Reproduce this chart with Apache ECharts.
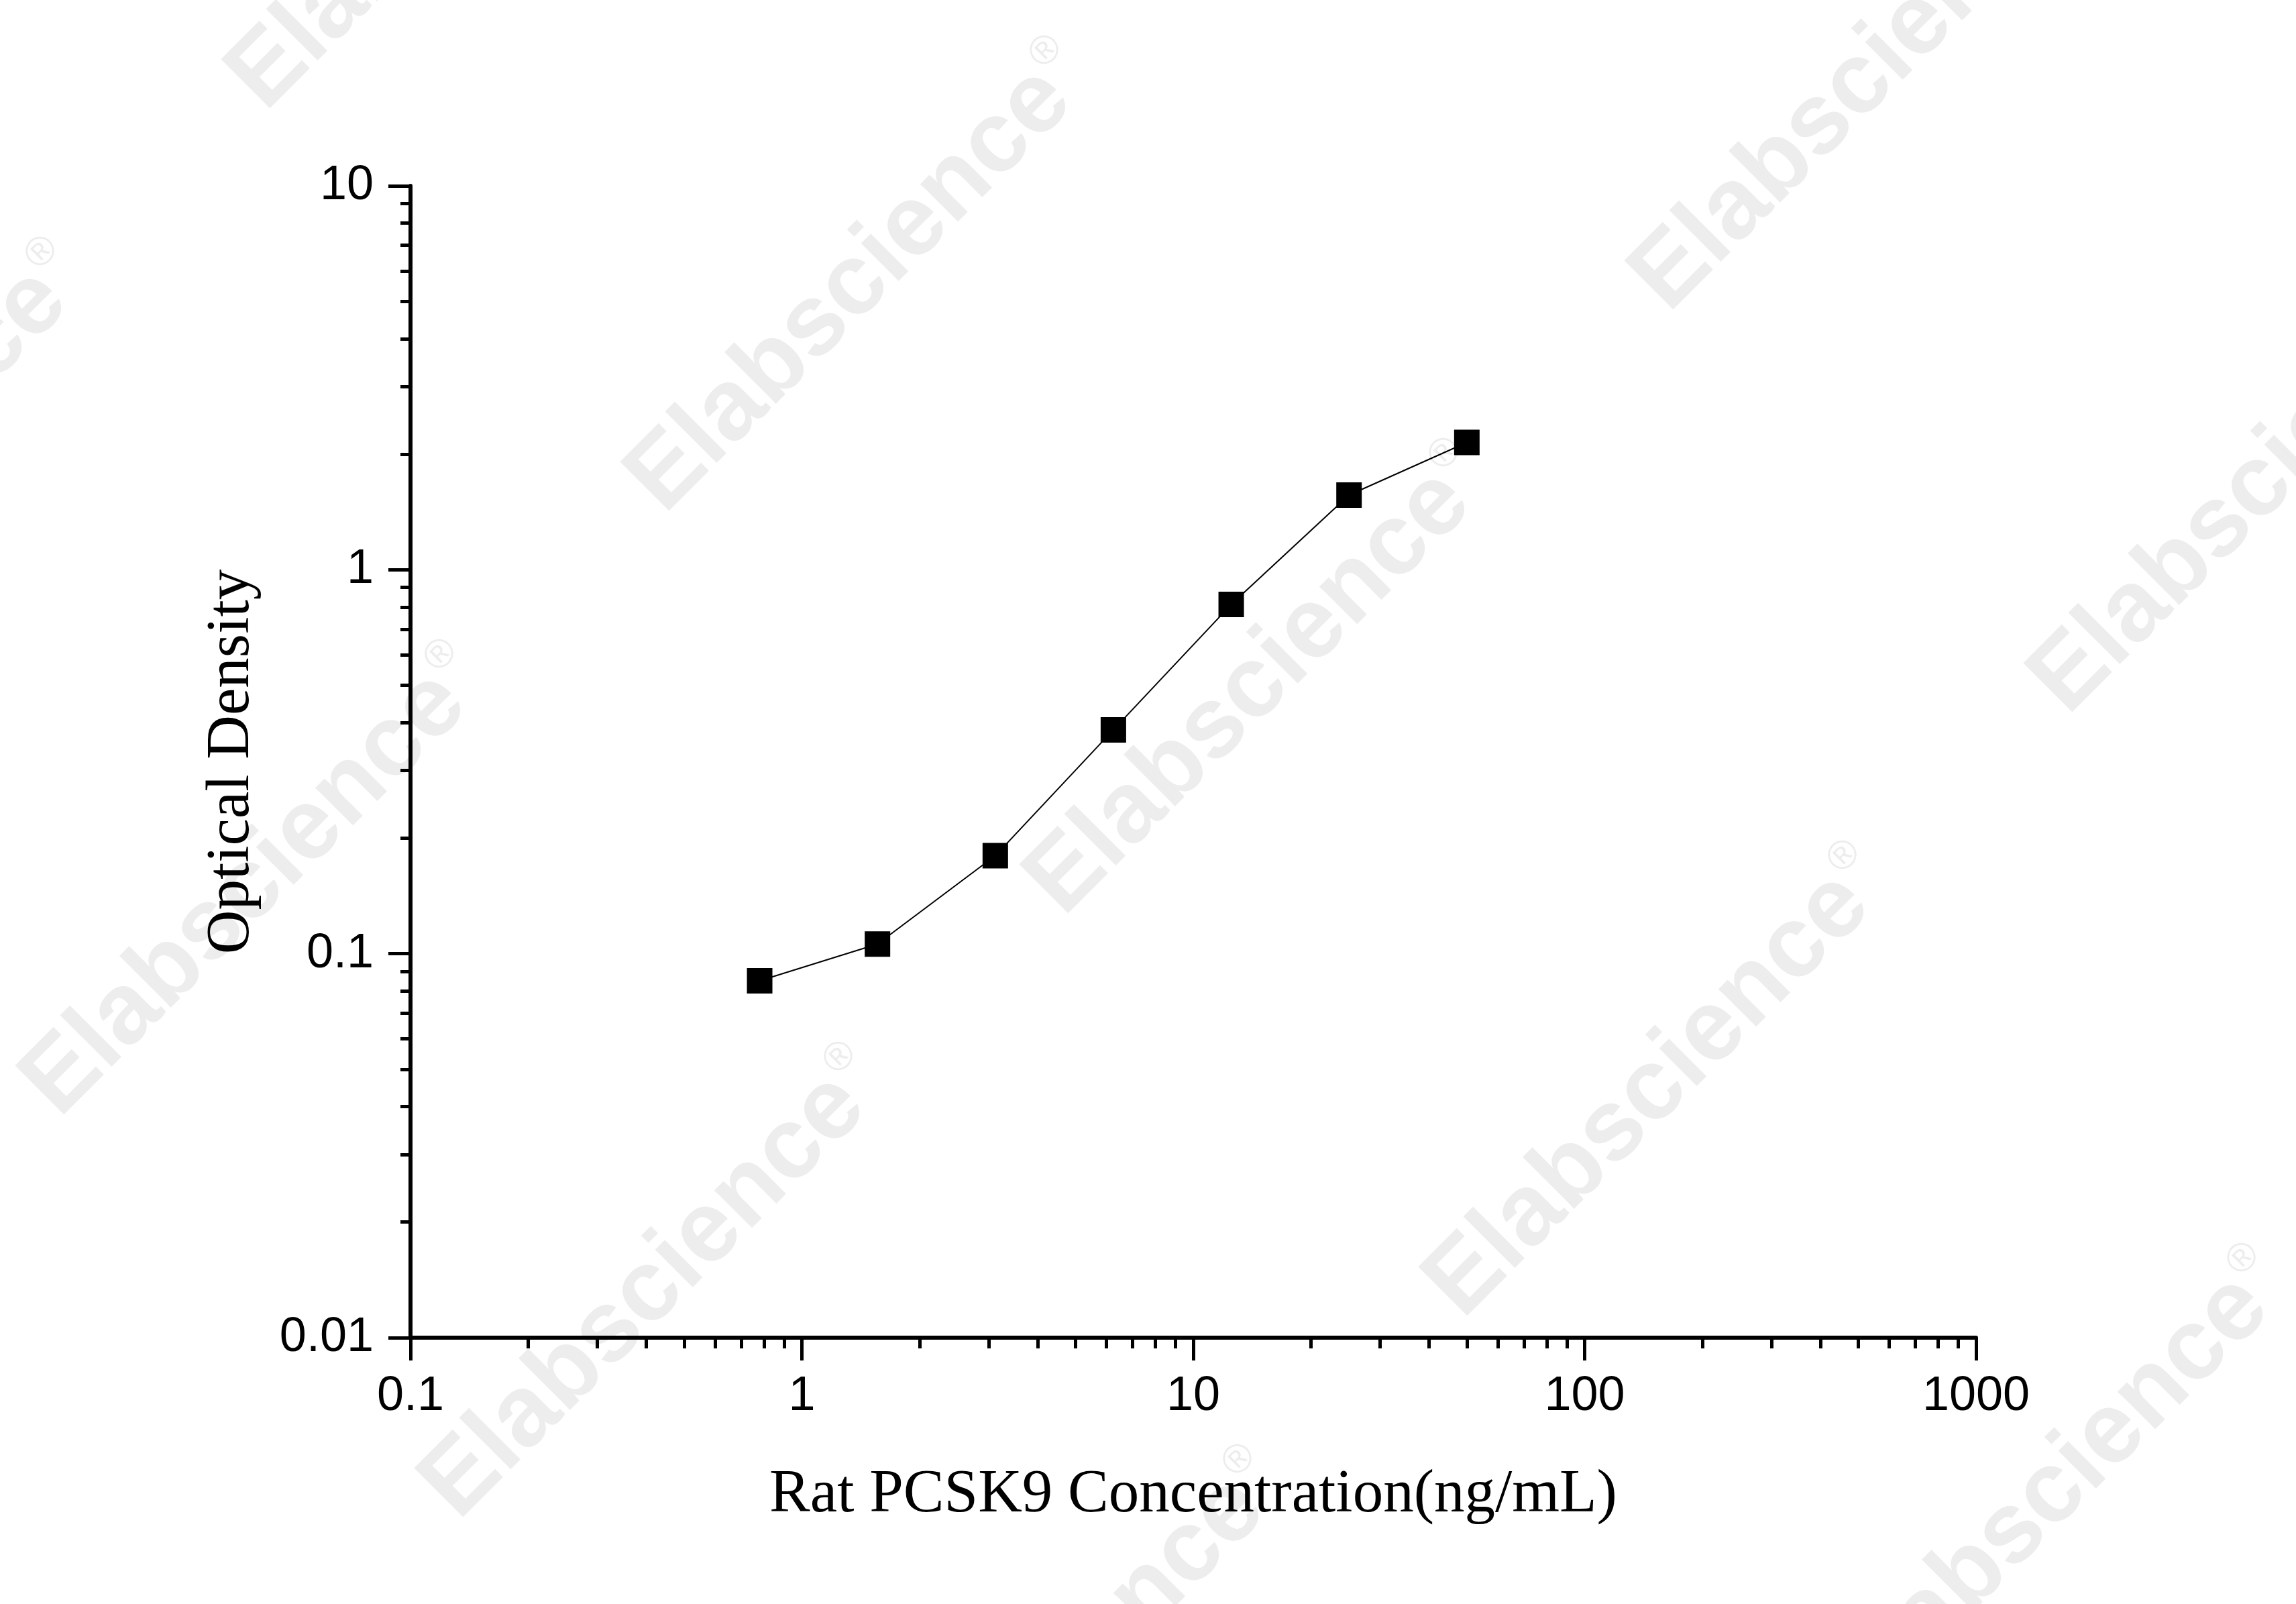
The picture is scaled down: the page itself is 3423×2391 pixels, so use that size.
<!DOCTYPE html>
<html>
<head>
<meta charset="utf-8">
<title>Rat PCSK9 standard curve</title>
<script src="https://cdn.jsdelivr.net/npm/echarts@6/dist/echarts.min.js"></script>
<style>
html, body { margin: 0; padding: 0; background: #fff; }
#main { width: 3423px; height: 2391px; }
</style>
</head>
<body>
<div id="main"></div>
<script type="text/javascript">
// standard points
var concentration = [0.78, 1.56, 3.12, 6.25, 12.5, 25, 50];
var opticalDensity = [0.085, 0.106, 0.180, 0.383, 0.812, 1.565, 2.146];

// tick values
var xMajorTicks = [0.1, 1, 10, 100, 1000];
var xMinorTicks = [0.2, 0.3, 0.4, 0.5, 0.6, 0.7, 0.8, 0.9,
                   2, 3, 4, 5, 6, 7, 8, 9,
                   20, 30, 40, 50, 60, 70, 80, 90,
                   200, 300, 400, 500, 600, 700, 800, 900];
var yMajorTicks = [0.01, 0.1, 1, 10];
var yMinorTicks = [0.02, 0.03, 0.04, 0.05, 0.06, 0.07, 0.08, 0.09,
                   0.2, 0.3, 0.4, 0.5, 0.6, 0.7, 0.8, 0.9,
                   2, 3, 4, 5, 6, 7, 8, 9];

var xTitle = 'Rat PCSK9 Concentration(ng/mL)';
var yTitle = 'Optical Density';
var watermark = 'Elabscience';

var myChart = echarts.init(document.getElementById('main'));

function fmt(v) {
  return String(+Number(v).toPrecision(6));
}

// watermark grid
var marks = [];
var ij = [[-1, 0], [0, 0], [1, 0], [2, 0], [3, 0],
          [-1, 1], [0, 1], [1, 1], [2, 1], [3, 1],
          [-1, 2], [0, 2], [1, 2], [2, 2],
          [0, -1], [1, -1], [2, -1], [3, -1]];
for (var k = 0; k < ij.length; k++) {
  var a = ij[k][0], b = ij[k][1];
  marks.push({
    type: 'text',
    x: 1284 + 595 * a + 1497 * b,
    y: 416 + 600 * a - 300 * b,
    rotation: Math.PI / 4,
    z: -10,
    silent: true,
    style: {
      text: watermark + '{r|®}',
      fill: '#ededed',
      font: 'bold 150px "Liberation Sans", Arial, sans-serif',
      align: 'center',
      verticalAlign: 'middle',
      rich: {
        r: { fontSize: 60, fontWeight: 'normal', fill: '#ededed', verticalAlign: 'top', padding: [0, 0, 80, 2] }
      }
    }
  });
}

var axisCommon = {
  type: 'log',
  logBase: 10,
  splitLine: { show: false },
  minorTick: { show: false }
};

var option = {
  backgroundColor: '#fff',
  animation: false,
  graphic: marks,
  grid: {
    left: 612,
    right: 477,
    top: 277,
    bottom: 397,
    containLabel: false
  },
  xAxis: [
    Object.assign({}, axisCommon, {
      min: 0.1, max: 1000,
      position: 'bottom',
      name: xTitle,
      nameLocation: 'middle',
      nameGap: 190,
      nameTextStyle: { fontFamily: '"Liberation Serif", "Times New Roman", serif', fontSize: 91, color: '#000' },
      axisLine: { show: true, lineStyle: { color: '#000', width: 6 } },
      axisTick: { show: true, length: 34, customValues: xMajorTicks, lineStyle: { color: '#000', width: 5 } },
      axisLabel: {
        customValues: xMajorTicks,
        margin: 52,
        fontFamily: '"Liberation Sans", Arial, sans-serif',
        fontSize: 72, color: '#000',
        formatter: fmt
      }
    }),
    Object.assign({}, axisCommon, {
      min: 0.1, max: 1000,
      position: 'bottom',
      axisLine: { show: false },
      axisTick: { show: true, length: 16, customValues: xMinorTicks, lineStyle: { color: '#000', width: 5 } },
      axisLabel: { show: false }
    })
  ],
  yAxis: [
    Object.assign({}, axisCommon, {
      min: 0.01, max: 10,
      position: 'left',
      name: yTitle,
      nameLocation: 'middle',
      nameGap: 220,
      nameTextStyle: { fontFamily: '"Liberation Serif", "Times New Roman", serif', fontSize: 91, color: '#000' },
      axisLine: { show: true, lineStyle: { color: '#000', width: 6 } },
      axisTick: { show: true, length: 33, customValues: yMajorTicks, lineStyle: { color: '#000', width: 5 } },
      axisLabel: {
        customValues: yMajorTicks,
        margin: 55,
        fontFamily: '"Liberation Sans", Arial, sans-serif',
        fontSize: 72, color: '#000',
        formatter: fmt
      }
    }),
    Object.assign({}, axisCommon, {
      min: 0.01, max: 10,
      position: 'left',
      axisLine: { show: false },
      axisTick: { show: true, length: 15, customValues: yMinorTicks, lineStyle: { color: '#000', width: 5 } },
      axisLabel: { show: false }
    })
  ],
  series: [{
    type: 'line',
    xAxisIndex: 0,
    yAxisIndex: 0,
    data: concentration.map(function (c, i) { return [c, opticalDensity[i]]; }),
    symbol: 'rect',
    symbolSize: 38,
    lineStyle: { color: '#000', width: 2 },
    itemStyle: { color: '#000' },
    z: 3
  }]
};

myChart.setOption(option);
</script>
</body>
</html>
